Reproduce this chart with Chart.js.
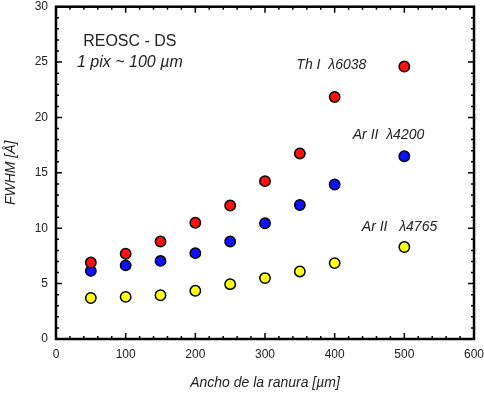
<!DOCTYPE html>
<html>
<head>
<meta charset="utf-8">
<script src="https://cdn.jsdelivr.net/npm/chart.js@4.4.1/dist/chart.umd.min.js"></script>
<style>
  html, body { margin: 0; padding: 0; background: #fff; }
  #wrap { width: 484px; height: 397px; }
</style>
</head>
<body>
<div id="wrap"><canvas id="chart" width="484" height="397"></canvas></div>
<script>
// slit widths (µm)
const slitWidths = [50, 100, 150, 200, 250, 300, 350, 400, 500];

// FWHM values (Å)
const thI6038  = [6.9, 7.7, 8.8, 10.5, 12.05, 14.25, 16.75, 21.85, 24.6];
const arII4200 = [6.15, 6.65, 7.05, 7.75, 8.8, 10.45, 12.1, 13.95, 16.5];
const arII4765 = [3.7, 3.8, 3.95, 4.35, 4.95, 5.5, 6.1, 6.85, 8.3];

const xTicks = [0, 100, 200, 300, 400, 500, 600];
const yTicks = [0, 5, 10, 15, 20, 25, 30];

// text labels placed inside the plot (data coords)
const notes = [
    { text: 'REOSC - DS',          x: 106, y: 26.85, font: '16px "Liberation Sans", Arial', align: 'center' },
    { text: '1 pix ~ 100 \u00b5m', x: 106, y: 24.95, font: 'italic 16px "Liberation Sans", Arial', align: 'center' },
    { text: 'Th I  \u03bb6038',    x: 345, y: 24.75, font: 'italic 14px "Liberation Sans", Arial', align: 'left' },
    { text: 'Ar II  \u03bb4200',   x: 426, y: 18.4,  font: 'italic 14px "Liberation Sans", Arial', align: 'left' },
    { text: 'Ar II   \u03bb4765',  x: 439, y: 10.1,  font: 'italic 14px "Liberation Sans", Arial', align: 'left' }
];

const toPoints = ys => ys.map((y, i) => ({ x: slitWidths[i], y: y }));

function series(data, color) {
    return {
        data: toPoints(data),
        backgroundColor: color,
        borderColor: '#000',
        borderWidth: 1.5,
        pointRadius: 5.2,
        pointHoverRadius: 5.2
    };
}

// frame + inward ticks on all four sides, then the text notes
const framePlugin = {
    id: 'frame',
    afterDatasetsDraw(chart) {
        const { ctx, chartArea: a, scales: { x, y } } = chart;
        ctx.save();
        ctx.strokeStyle = '#000';
        ctx.lineWidth = 1.5;
        for (let v = 0; v <= 600; v += 20) {
            const px = x.getPixelForValue(v);
            const len = v % 100 === 0 ? 6 : 3;
            ctx.beginPath();
            ctx.moveTo(px, a.bottom); ctx.lineTo(px, a.bottom - len);
            ctx.moveTo(px, a.top); ctx.lineTo(px, a.top + len);
            ctx.stroke();
        }
        for (let v = 0; v <= 30; v += 1) {
            const py = y.getPixelForValue(v);
            const len = v % 5 === 0 ? 6 : 3;
            ctx.beginPath();
            ctx.moveTo(a.left, py); ctx.lineTo(a.left + len, py);
            ctx.moveTo(a.right, py); ctx.lineTo(a.right - len, py);
            ctx.stroke();
        }
        ctx.lineWidth = 2.5;
        ctx.strokeRect(a.left, a.top, a.right - a.left, a.bottom - a.top);
        ctx.restore();
    },
    afterDraw(chart) {
        const { ctx, scales: { x, y } } = chart;
        ctx.save();
        ctx.fillStyle = '#222';
        ctx.textBaseline = 'middle';
        notes.forEach(n => {
            ctx.font = n.font;
            ctx.textAlign = n.align;
            ctx.fillText(n.text, x.getPixelForValue(n.x), y.getPixelForValue(n.y));
        });
        ctx.restore();
    }
};

new Chart(document.getElementById('chart'), {
    type: 'scatter',
    data: {
        datasets: [
            series(thI6038, '#ff1010'),
            series(arII4200, '#1010ff'),
            series(arII4765, '#ffff10')
        ]
    },
    options: {
        responsive: false,
        animation: false,
        events: [],
        layout: { padding: { left: 0, right: 10, top: 6, bottom: 0 } },
        plugins: { legend: { display: false }, tooltip: { enabled: false } },
        scales: {
            x: {
                type: 'linear',
                min: 0, max: 600,
                afterBuildTicks: s => { s.ticks = xTicks.map(v => ({ value: v })); },
                afterFit: s => { s.height = 58; s.paddingLeft = 0; s.paddingRight = 0; },
                grid: { display: false, drawTicks: false },
                border: { display: false },
                ticks: { color: '#222', padding: 8, maxRotation: 0, font: { family: '"Liberation Sans", Arial', size: 12 } },
                title: { display: true, text: 'Ancho de la ranura [\u00b5m]', color: '#222', padding: { top: 8, bottom: 5 },
                         font: { family: '"Liberation Sans", Arial', size: 14, style: 'italic' } }
            },
            y: {
                type: 'linear',
                min: 0, max: 30,
                afterBuildTicks: s => { s.ticks = yTicks.map(v => ({ value: v })); },
                afterFit: s => { s.width = 56; s.paddingTop = 0; s.paddingBottom = 0; },
                grid: { display: false, drawTicks: false },
                border: { display: false },
                ticks: { color: '#222', padding: 8, font: { family: '"Liberation Sans", Arial', size: 12 } },
                title: { display: true, text: 'FWHM [\u00c5]', color: '#222', padding: { top: 3, bottom: 0 },
                         font: { family: '"Liberation Sans", Arial', size: 14, style: 'italic' } }
            }
        }
    },
    plugins: [framePlugin]
});
</script>
</body>
</html>
